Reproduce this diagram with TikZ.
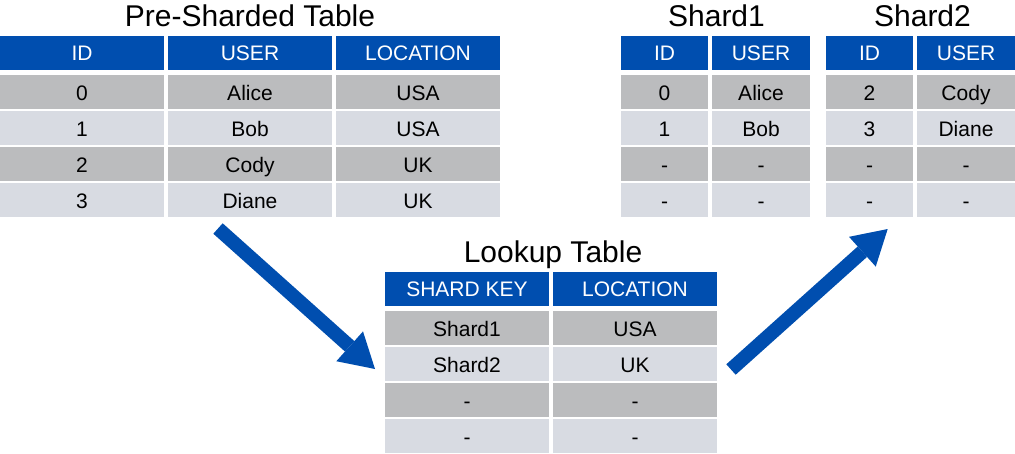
\documentclass[tikz,border=0pt]{standalone}
\usepackage{fontspec}
\setmainfont{Liberation Sans}
\usetikzlibrary{arrows.meta}
\definecolor{hdrblue}{RGB}{0,78,175}
\definecolor{rowdark}{RGB}{187,188,190}
\definecolor{rowlight}{RGB}{216,219,226}
\begin{document}
\begin{tikzpicture}[x=1pt,y=-1pt,
  cell/.style={rectangle, inner sep=0pt, minimum height=34pt, text height=17pt, text depth=0pt, font=\fontsize{21}{25}\selectfont, text=black},
  hdr/.style={cell, fill=hdrblue, text=white, text height=15pt},
  ttl/.style={inner sep=0pt, text height=21.6pt, text depth=0pt, font=\fontsize{30}{36}\selectfont},
  bigarrow/.style={draw=hdrblue, line width=14pt, -{Triangle[length=34pt,width=40pt,line width=0pt]}}
]
\useasboundingbox (0,0) rectangle (1015,453);

% ---------- Pre-Sharded Table ----------
\node[ttl] (pre-title) at (250,16) {Pre-Sharded Table};
\foreach \c/\x/\t in {1/82/ID,2/250/USER,3/418/LOCATION}
  \node[hdr, minimum width=164pt] (pre-h\c) at (\x,53) {\t};
\foreach \r/\y/\f/\a/\b/\d in {1/92/rowdark/0/Alice/USA, 2/128/rowlight/1/Bob/USA, 3/164/rowdark/2/Cody/UK, 4/200/rowlight/3/Diane/UK}{
  \node[cell, fill=\f, minimum width=164pt] (pre-r\r c1) at (82,\y) {\a};
  \node[cell, fill=\f, minimum width=164pt] (pre-r\r c2) at (250,\y) {\b};
  \node[cell, fill=\f, minimum width=164pt] (pre-r\r c3) at (418,\y) {\d};
}

% ---------- Shard1 ----------
\node[ttl] (s1-title) at (716.5,16) {Shard1};
\node[hdr, minimum width=87pt] (s1-h1) at (664.5,53) {ID};
\node[hdr, minimum width=98pt] (s1-h2) at (761,53) {USER};
\foreach \r/\y/\f/\a/\b in {1/92/rowdark/0/Alice, 2/128/rowlight/1/Bob, 3/164/rowdark/-/-, 4/200/rowlight/-/-}{
  \node[cell, fill=\f, minimum width=87pt] (s1-r\r c1) at (664.5,\y) {\a};
  \node[cell, fill=\f, minimum width=98pt] (s1-r\r c2) at (761,\y) {\b};
}

% ---------- Shard2 ----------
\node[ttl] (s2-title) at (922.5,16) {Shard2};
\node[hdr, minimum width=87pt] (s2-h1) at (869.5,53) {ID};
\node[hdr, minimum width=98pt] (s2-h2) at (966,53) {USER};
\foreach \r/\y/\f/\a/\b in {1/92/rowdark/2/Cody, 2/128/rowlight/3/Diane, 3/164/rowdark/-/-, 4/200/rowlight/-/-}{
  \node[cell, fill=\f, minimum width=87pt] (s2-r\r c1) at (869.5,\y) {\a};
  \node[cell, fill=\f, minimum width=98pt] (s2-r\r c2) at (966,\y) {\b};
}

% ---------- Lookup Table ----------
\node[ttl] (lk-title) at (553,252) {Lookup Table};
\node[hdr, minimum width=164pt] (lk-h1) at (467,289) {SHARD KEY};
\node[hdr, minimum width=164pt] (lk-h2) at (635,289) {LOCATION};
\foreach \r/\y/\f/\a/\b in {1/328/rowdark/Shard1/USA, 2/364/rowlight/Shard2/UK, 3/400/rowdark/-/-, 4/436/rowlight/-/-}{
  \node[cell, fill=\f, minimum width=164pt] (lk-r\r c1) at (467,\y) {\a};
  \node[cell, fill=\f, minimum width=164pt] (lk-r\r c2) at (635,\y) {\b};
}

% ---------- Arrows ----------
\coordinate (arrA-s) at (218,228.5);
\coordinate (arrA-e) at (375,369);
\coordinate (arrB-s) at (731,369.5);
\coordinate (arrB-e) at (887.7,229);
\draw[bigarrow] (arrA-s) -- (arrA-e);
\draw[bigarrow] (arrB-s) -- (arrB-e);
\end{tikzpicture}
\end{document}
